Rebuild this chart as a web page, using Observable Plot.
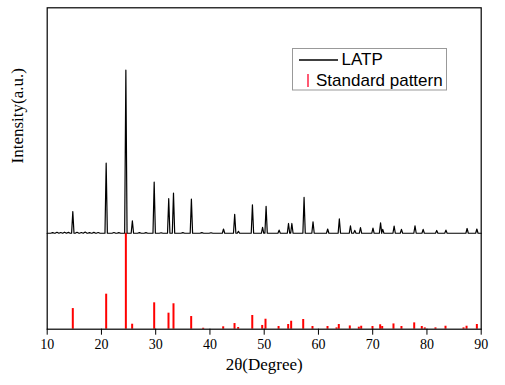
<!DOCTYPE html>
<html><head><meta charset="utf-8">
<script src="https://cdn.jsdelivr.net/npm/d3@7"></script>
<script src="https://cdn.jsdelivr.net/npm/@observablehq/plot@0.6"></script>
<style>
html,body{margin:0;padding:0;background:#fff;}
#wrap{position:relative;width:505px;height:385px;overflow:hidden;}
#wrap svg text{font-family:'Liberation Serif','Times New Roman',serif;}
#legend{position:absolute;left:0;top:0;pointer-events:none;}
#legend text{font-family:'Liberation Sans',Arial,sans-serif !important;}
</style></head><body><div id="wrap"></div>
<script>
// x-axis ticks
const xTicks = [10, 20, 30, 40, 50, 60, 70, 80, 90];

// Standard pattern (red sticks): 2θ positions and relative intensities (%)
const stdPos = [14.72, 20.87, 24.5, 25.66, 29.72, 32.36, 33.28, 36.54, 38.75, 42.44, 44.53, 45.2, 47.8, 49.63, 50.24, 52.65, 54.42, 54.97, 57.19, 58.9, 61.67, 63.33, 63.75, 65.78, 67.44, 67.88, 69.96, 71.38, 71.75, 73.83, 75.3, 77.65, 79.05, 79.6, 81.57, 83.42, 86.74, 87.3, 89.2];
const stdInt = [21.5, 36.5, 100, 5.2, 27.5, 16.7, 26.5, 13.2, 1.0, 2.5, 5.9, 1.8, 14.3, 3.9, 10.4, 2.8, 4.9, 8.3, 10.1, 2.8, 2.8, 1.4, 4.9, 3.4, 2.1, 3.1, 2.8, 4.6, 2.8, 5.5, 2.8, 6.6, 2.8, 1.4, 1.4, 3.1, 1.4, 3.1, 4.9];

// LATP measured pattern: peak positions and heights (a.u.)
const latpPos = [14.72, 20.87, 24.5, 25.7, 29.72, 32.4, 33.28, 36.58, 42.5, 44.56, 45.25, 47.83, 49.7, 50.35, 52.75, 54.48, 55.1, 57.35, 59.0, 61.7, 63.85, 65.9, 66.7, 67.75, 70.05, 71.45, 71.85, 73.95, 75.3, 77.8, 79.3, 81.8, 83.5, 87.4, 89.2];
const latpInt = [22.7, 73, 170, 13, 53.3, 36, 41.9, 35.6, 4.4, 19.8, 2, 29.7, 6.2, 28.1, 3.3, 10.2, 10.2, 37.3, 12, 4.4, 14.9, 7.8, 3, 6, 5.4, 10.9, 4, 7.5, 4, 7.8, 4, 2.9, 3.3, 5, 4.4];
// small background wiggles of the LATP trace
const bgPos = [11.0, 11.8, 12.5, 13.2, 13.9, 15.5, 16.3, 17.0, 17.8, 18.6, 19.4, 22.3, 23.2, 27.0, 28.2, 31.0, 35.0, 38.5, 40.2];
const bgInt = [0.7, 1.0, 0.8, 1.1, 0.9, 1.0, 0.8, 1.2, 0.7, 0.9, 0.8, 0.8, 0.6, 0.7, 0.6, 0.5, 0.6, 0.7, 0.5];
const latpOffset = 100;

const stdData = stdPos.map((x, i) => ({x, y: stdInt[i]}));
const peaks = latpPos.map((x, i) => ({x, h: latpInt[i], w: 0.22}))
  .concat(bgPos.map((x, i) => ({x, h: bgInt[i], w: 0.35})))
  .sort((a, b) => a.x - b.x);
const latpLine = [{x: 10, y: latpOffset}];
for (const p of peaks) {
  latpLine.push({x: p.x - p.w, y: latpOffset});
  latpLine.push({x: p.x, y: latpOffset + p.h});
  latpLine.push({x: p.x + p.w, y: latpOffset});
}
latpLine.push({x: 90, y: latpOffset});

const serif = "'Liberation Serif','Times New Roman',serif";
const chart = Plot.plot({
  width: 505,
  height: 385,
  marginLeft: 46.7,
  marginRight: 24.3,
  marginTop: 7.3,
  marginBottom: 56.3,
  style: {fontFamily: serif, fontSize: "14px", color: "#000", background: "#fff"},
  x: {domain: [10, 90], label: null},
  y: {domain: [0, 335], axis: null},
  marks: [
    Plot.ruleX(stdData, {x: "x", y1: 0, y2: "y", stroke: "#ff0000", strokeWidth: 2}),
    Plot.line(latpLine, {x: "x", y: "y", stroke: "#000", strokeWidth: 1.2}),
    Plot.frame({stroke: "#000", strokeWidth: 1.2}),
    Plot.axisX({ticks: xTicks, tickSize: 6, tickPadding: 4, tickFormat: d => String(d), fontSize: 14, fontFamily: serif, fill: "#000", stroke: "#000", label: null}),
    Plot.text(["2θ(Degree)"], {frameAnchor: "bottom", dy: 41, fontSize: 17, fontFamily: serif, fill: "#000"}),
    Plot.text(["Intensity(a.u.)"], {frameAnchor: "left", rotate: -90, dx: -30, dy: -5, fontSize: 17, fontFamily: serif, fill: "#000"})
  ]
});
d3.select(chart).selectAll("text").style("font-family", serif).style("font-variant", "normal");
const wrap = document.getElementById("wrap");
wrap.appendChild(chart);

// legend overlay
const ns = "http://www.w3.org/2000/svg";
const lg = document.createElementNS(ns, "svg");
lg.setAttribute("id", "legend");
lg.setAttribute("width", 505);
lg.setAttribute("height", 385);
lg.innerHTML = `
<rect x="292.5" y="48.5" width="154" height="41.5" fill="#fff" stroke="#999" stroke-width="1"/>
<line x1="299" x2="338" y1="60" y2="60" stroke="#000" stroke-width="1.3"/>
<text x="341.5" y="64.5" font-size="17" fill="#000">LATP</text>
<line x1="308" x2="308" y1="74" y2="87" stroke="#ff3050" stroke-width="1.6"/>
<text x="316" y="86" font-size="17" fill="#000">Standard pattern</text>`;
wrap.appendChild(lg);
</script></body></html>
